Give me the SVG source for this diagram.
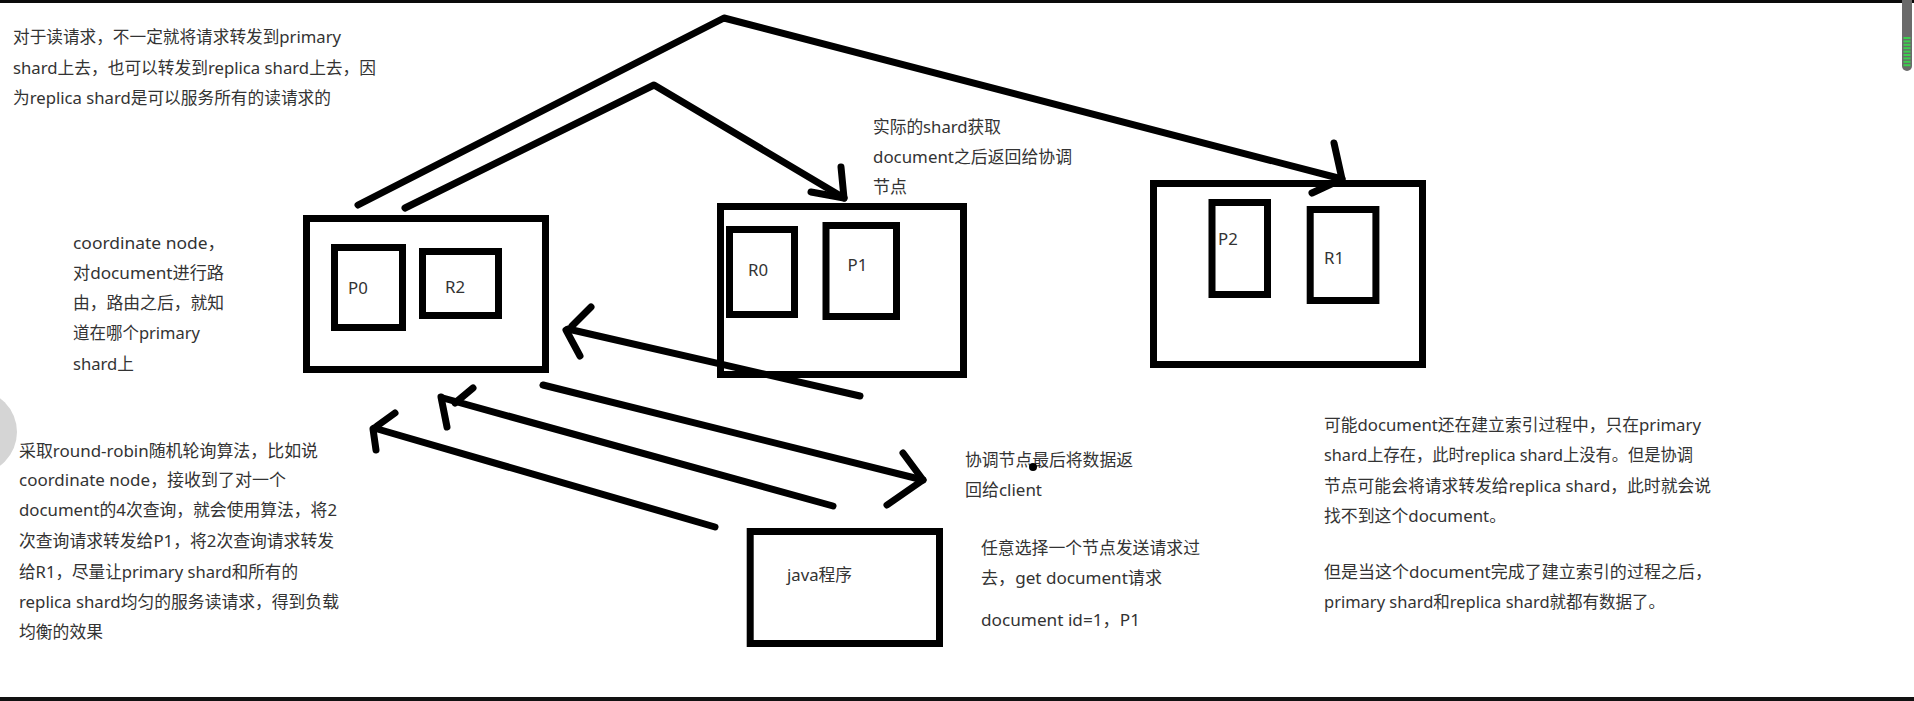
<svg xmlns="http://www.w3.org/2000/svg" width="1914" height="701" viewBox="0 0 1914 701">
  <style>
    .box { fill: none; stroke: #000; stroke-width: 7; }
    .wire { fill: none; stroke: #000; stroke-width: 7; stroke-linecap: round; stroke-linejoin: round; }
    .t { font-family: "Noto Sans", "Noto Sans CJK SC", sans-serif; font-size: 16.8px; fill: #333; }
    .lbl { font-family: "Noto Sans", "Noto Sans CJK SC", sans-serif; font-size: 16.8px; fill: #333; }
  </style>

  <rect x="0" y="0" width="1914" height="701" fill="#fff"/>

  <!-- window chrome: top and bottom edges, scrollbar, side handle -->
  <rect x="0" y="0" width="1914" height="3" fill="#0a0a0a"/>
  <rect x="0" y="697" width="1914" height="4" fill="#111"/>
  <circle cx="-25" cy="432" r="42" fill="#d5d5d5"/>
  <g id="scrollbar">
    <rect x="1902" y="-6" width="10" height="77" rx="5" fill="#6a6a6a"/>
    <g fill="#3ccf4e">
      <rect x="1903.5" y="37" width="7" height="2"/>
      <rect x="1903.5" y="40.4" width="7" height="2"/>
      <rect x="1903.5" y="43.8" width="7" height="2"/>
      <rect x="1903.5" y="47.2" width="7" height="2"/>
      <rect x="1903.5" y="50.6" width="7" height="2"/>
      <rect x="1903.5" y="54" width="7" height="2"/>
      <rect x="1903.5" y="57.4" width="7" height="2"/>
      <rect x="1903.5" y="60.8" width="7" height="2"/>
      <rect x="1903.5" y="64.2" width="7" height="2"/>
    </g>
  </g>

  <!-- notes -->
  <g id="note-read">
    <text class="t" x="13" y="43" textLength="328" lengthAdjust="spacingAndGlyphs">对于读请求，不一定就将请求转发到primary</text>
    <text class="t" x="13" y="74" textLength="363" lengthAdjust="spacingAndGlyphs">shard上去，也可以转发到replica shard上去，因</text>
    <text class="t" x="13" y="104" textLength="318" lengthAdjust="spacingAndGlyphs">为replica shard是可以服务所有的读请求的</text>
  </g>

  <g id="note-coordinate">
    <text class="t" x="73" y="249" textLength="152" lengthAdjust="spacingAndGlyphs">coordinate node，</text>
    <text class="t" x="73" y="279" textLength="151" lengthAdjust="spacingAndGlyphs">对document进行路</text>
    <text class="t" x="73" y="309" textLength="151" lengthAdjust="spacingAndGlyphs">由，路由之后，就知</text>
    <text class="t" x="73" y="339" textLength="127" lengthAdjust="spacingAndGlyphs">道在哪个primary</text>
    <text class="t" x="73" y="370" textLength="61" lengthAdjust="spacingAndGlyphs">shard上</text>
  </g>

  <g id="note-roundrobin">
    <text class="t" x="19" y="457" textLength="299" lengthAdjust="spacingAndGlyphs">采取round-robin随机轮询算法，比如说</text>
    <text class="t" x="19" y="486" textLength="267" lengthAdjust="spacingAndGlyphs">coordinate node，接收到了对一个</text>
    <text class="t" x="19" y="516" textLength="318" lengthAdjust="spacingAndGlyphs">document的4次查询，就会使用算法，将2</text>
    <text class="t" x="19" y="547" textLength="315" lengthAdjust="spacingAndGlyphs">次查询请求转发给P1，将2次查询请求转发</text>
    <text class="t" x="19" y="578" textLength="279" lengthAdjust="spacingAndGlyphs">给R1，尽量让primary shard和所有的</text>
    <text class="t" x="19" y="608" textLength="320" lengthAdjust="spacingAndGlyphs">replica shard均匀的服务读请求，得到负载</text>
    <text class="t" x="19" y="638" textLength="84" lengthAdjust="spacingAndGlyphs">均衡的效果</text>
  </g>

  <g id="note-shard-return">
    <text class="t" x="873" y="133" textLength="128" lengthAdjust="spacingAndGlyphs">实际的shard获取</text>
    <text class="t" x="873" y="163" textLength="199" lengthAdjust="spacingAndGlyphs">document之后返回给协调</text>
    <text class="t" x="873" y="193" textLength="34" lengthAdjust="spacingAndGlyphs">节点</text>
  </g>

  <g id="note-client">
    <text class="t" x="965" y="466" textLength="168" lengthAdjust="spacingAndGlyphs">协调节点最后将数据返</text>
    <text class="t" x="965" y="496" textLength="77" lengthAdjust="spacingAndGlyphs">回给client</text>
    <circle cx="1033" cy="467" r="4" fill="#000"/>
  </g>

  <g id="note-request">
    <text class="t" x="981" y="554" textLength="219" lengthAdjust="spacingAndGlyphs">任意选择一个节点发送请求过</text>
    <text class="t" x="981" y="584" textLength="181" lengthAdjust="spacingAndGlyphs">去，get document请求</text>
    <text class="t" x="981" y="626" textLength="159" lengthAdjust="spacingAndGlyphs">document id=1，P1</text>
  </g>

  <g id="note-replica">
    <text class="t" x="1324" y="431" textLength="377" lengthAdjust="spacingAndGlyphs">可能document还在建立索引过程中，只在primary</text>
    <text class="t" x="1324" y="461" textLength="369" lengthAdjust="spacingAndGlyphs">shard上存在，此时replica shard上没有。但是协调</text>
    <text class="t" x="1324" y="492" textLength="387" lengthAdjust="spacingAndGlyphs">节点可能会将请求转发给replica shard，此时就会说</text>
    <text class="t" x="1324" y="522" textLength="182" lengthAdjust="spacingAndGlyphs">找不到这个document。</text>
    <text class="t" x="1324" y="578" textLength="388" lengthAdjust="spacingAndGlyphs">但是当这个document完成了建立索引的过程之后，</text>
    <text class="t" x="1324" y="608" textLength="341" lengthAdjust="spacingAndGlyphs">primary shard和replica shard就都有数据了。</text>
  </g>

  <!-- nodes -->
  <g id="node-coordinate">
    <rect class="box" x="306.5" y="218.5" width="239" height="151"/>
    <g id="shard-p0">
      <rect class="box" x="334.5" y="247.5" width="68" height="80"/>
      <text class="lbl" x="348" y="294">P0</text>
    </g>
    <g id="shard-r2">
      <rect class="box" x="422.5" y="251.5" width="76" height="64"/>
      <text class="lbl" x="445" y="293">R2</text>
    </g>
  </g>

  <g id="node-middle">
    <rect class="box" x="720.5" y="206.5" width="243" height="168"/>
    <g id="shard-r0">
      <rect class="box" x="729.5" y="229.5" width="65" height="85"/>
      <text class="lbl" x="748" y="275.5">R0</text>
    </g>
    <g id="shard-p1">
      <rect class="box" x="826" y="225.5" width="70.5" height="91"/>
      <text class="lbl" x="847.5" y="270.5">P1</text>
    </g>
  </g>

  <g id="node-right">
    <rect class="box" x="1153.5" y="183.5" width="269" height="181"/>
    <g id="shard-p2">
      <rect class="box" x="1212" y="202.5" width="55.5" height="92"/>
      <text class="lbl" x="1218" y="245">P2</text>
    </g>
    <g id="shard-r1">
      <rect class="box" x="1310.2" y="209.5" width="65.7" height="91"/>
      <text class="lbl" x="1324" y="264">R1</text>
    </g>
  </g>

  <g id="node-java">
    <rect class="box" x="750.2" y="531.5" width="189.3" height="112"/>
    <text class="t" x="787" y="581" textLength="65" lengthAdjust="spacingAndGlyphs">java程序</text>
  </g>

  <!-- connectors: hand-drawn strokes with open arrowheads -->
  <g id="connectors" class="wire">
    <!-- coordinate node forwards to R1 -->
    <path d="M358,205 L724,18 L1342,179"/>
    <path d="M1334,143 L1342,179 M1312,193 L1342,179"/>
    <!-- coordinate node forwards to P1 -->
    <path d="M405,208 L654,85 L844,198"/>
    <path d="M841,167 L844,198 M811,192 L844,198"/>
    <!-- shard result back to coordinate node -->
    <path d="M860,396 L568,329"/>
    <path d="M591,307 L572,326 M566,330 L580,356"/>
    <!-- coordinate node replies to client -->
    <path d="M543,385 L923,480"/>
    <path d="M903,453 L923,480 M887,505 L923,480"/>
    <!-- client requests -->
    <path d="M833,506 L443,398"/>
    <path d="M473,388 L455,403 M441,397 L447,427"/>
    <path d="M715,527 L374,428"/>
    <path d="M395,413 L377,426 M373,429 L376,450"/>
  </g>
</svg>
